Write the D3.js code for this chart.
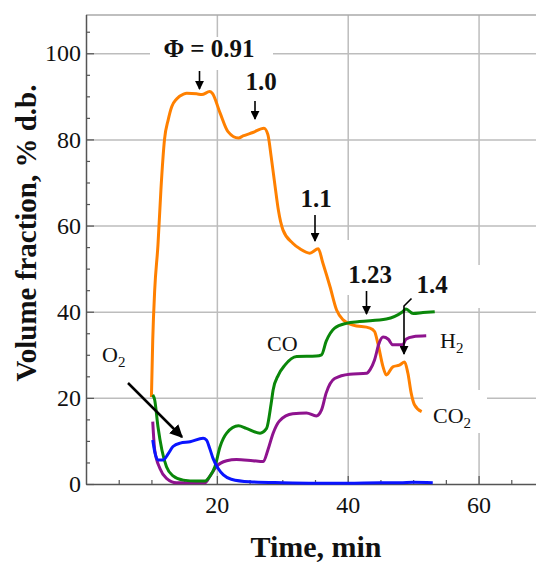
<!DOCTYPE html>
<html>
<head>
<meta charset="utf-8">
<script src="https://cdn.jsdelivr.net/npm/d3@7"></script>
<style>
  body { margin: 0; background: #fff; }
  text { font-family: "Liberation Serif", "Times New Roman", serif; fill: #111; }
</style>
</head>
<body>
<svg id="chart"></svg>
<script>
// data: time (min) and volume fraction (% d.b.)
var co2Time = [10.0, 10.2, 10.5, 11.0, 11.45, 12.0, 12.57, 13.1, 13.85, 14.9, 15.4, 16.9, 17.7, 18.9, 19.3, 20.5, 21.7, 23.3, 24.0, 25.5, 27.2, 27.8, 28.3, 28.9, 29.4, 30.1, 31.6, 32.7, 34.2, 35.5, 36.2, 37.3, 38.3, 39.3, 40.8, 43.4, 44.1, 44.6, 45.4, 45.9, 46.9, 47.9, 48.7, 49.2, 49.7, 50.2, 51.3];
var co2Vals = [20.2, 33.4, 45.0, 55.5, 68.3, 80.0, 84.6, 87.6, 89.4, 90.5, 90.7, 90.6, 90.4, 91.1, 90.7, 86.1, 81.8, 80.3, 80.8, 81.6, 82.6, 81.1, 76.0, 69.1, 63.6, 59.0, 55.9, 54.6, 53.6, 54.6, 51.3, 45.8, 40.4, 38.1, 36.9, 36.2, 35.4, 32.7, 27.2, 25.3, 27.2, 27.6, 28.3, 25.7, 21.1, 18.4, 16.8];

var coTime = [10.2, 10.5, 11.0, 11.6, 12.3, 13.3, 14.9, 16.9, 18.2, 18.9, 19.7, 20.5, 21.5, 23.3, 24.5, 26.6, 27.6, 28.3, 28.6, 29.4, 30.4, 32.2, 35.2, 36.0, 36.7, 38.0, 39.8, 41.8, 45.9, 48.4, 48.9, 50.0, 51.5, 53.3];
var coVals = [20.7, 19.5, 13.3, 7.9, 4.0, 1.9, 0.9, 0.7, 0.7, 1.7, 4.0, 8.7, 11.8, 13.5, 12.9, 11.8, 12.9, 18.7, 21.8, 25.3, 27.6, 29.6, 29.7, 30.0, 33.1, 36.2, 37.3, 37.7, 38.3, 40.0, 40.6, 39.6, 39.8, 40.0];

var h2Time = [10.2, 10.5, 11.3, 12.3, 13.8, 18.2, 18.9, 19.9, 21.5, 23.0, 25.5, 27.1, 27.8, 28.6, 29.6, 31.6, 33.7, 35.2, 36.0, 36.7, 38.0, 40.3, 42.9, 43.4, 44.1, 44.8, 45.4, 46.2, 46.9, 48.4, 48.9, 50.0, 52.0];
var h2Vals = [14.5, 7.9, 3.6, 1.3, 0.3, 0.3, 1.7, 4.0, 5.4, 5.7, 5.4, 5.2, 7.9, 11.8, 14.7, 16.3, 16.5, 15.8, 17.2, 21.1, 24.5, 25.5, 25.7, 26.5, 28.8, 32.7, 34.1, 33.6, 32.3, 32.3, 33.6, 34.2, 34.4];

var o2Time = [10.2, 10.5, 11.0, 11.8, 12.6, 13.3, 14.4, 15.9, 17.9, 18.4, 18.9, 19.4, 20.2, 21.0, 22.2, 25.0, 30.0, 35.0, 40.0, 45.0, 48.0, 50.0, 53.0];
var o2Vals = [10.2, 7.5, 5.6, 5.6, 7.1, 8.7, 9.5, 9.8, 10.6, 10.2, 8.3, 6.0, 3.6, 2.1, 1.1, 0.5, 0.3, 0.2, 0.2, 0.3, 0.3, 0.4, 0.3];

var xTicks = [20, 40, 60];
var yTicks = [0, 20, 40, 60, 80, 100];
var phiLabels = ["\u03A6 = 0.91", "1.0", "1.1", "1.23", "1.4"];

var width = 536, height = 562;

var svg = d3.select("#chart")
  .attr("width", width)
  .attr("height", height);

var x = d3.scaleLinear().domain([0, 70]).range([86, 544]);
var y = d3.scaleLinear().domain([0, 109]).range([484, 14.5]);

// grid
var gx = svg.append("g")
  .attr("transform", "translate(0,484)")
  .call(d3.axisBottom(x).tickValues(xTicks).tickSize(-(484 - 15)).tickFormat(""));
var gy = svg.append("g")
  .attr("transform", "translate(86,0)")
  .call(d3.axisLeft(y).tickValues(yTicks.slice(1)).tickSize(-(width - 86)).tickFormat(""));
[gx, gy].forEach(function(g){
  g.select(".domain").remove();
  g.selectAll("line").attr("stroke", "#bdbdbd").attr("stroke-width", 1.5);
});

// top frame line
svg.append("line")
  .attr("x1", 86).attr("x2", width).attr("y1", 15).attr("y2", 15)
  .attr("stroke", "#aaa").attr("stroke-width", 1.5);

// white boxes behind labels (they break the grid like in the original)
var boxes = [[150, 37, 123, 33], [340, 240, 60, 55], [405, 265, 80, 43], [423, 390, 64, 43]];
svg.selectAll(".box").data(boxes).enter().append("rect")
  .attr("x", function(d){ return d[0]; })
  .attr("y", function(d){ return d[1]; })
  .attr("width", function(d){ return d[2]; })
  .attr("height", function(d){ return d[3]; })
  .attr("fill", "#fff");

// axes
var minorX = d3.range(5, 70, 5).filter(function(v){ return v % 20 != 0; });
var minorY = d3.range(5, 109, 5).filter(function(v){ return v % 20 != 0; });

var xAxis = svg.append("g").attr("transform", "translate(0,484)");
xAxis.call(d3.axisBottom(x).tickValues(minorX).tickSize(-4).tickFormat("").tickSizeOuter(0));
var xAxis2 = svg.append("g").attr("transform", "translate(0,484)")
  .call(d3.axisBottom(x).tickValues(xTicks).tickSize(-8).tickPadding(12).tickSizeOuter(0));
xAxis2.select(".domain").remove();

var yAxis = svg.append("g").attr("transform", "translate(86,0)");
yAxis.call(d3.axisLeft(y).tickValues(minorY).tickSize(-4).tickFormat("").tickSizeOuter(0));
var yAxis2 = svg.append("g").attr("transform", "translate(86,0)")
  .call(d3.axisLeft(y).tickValues(yTicks).tickSize(-8).tickPadding(5).tickSizeOuter(0));
yAxis2.select(".domain").remove();

svg.selectAll(".domain").attr("stroke", "#555").attr("stroke-width", 1.5);
[xAxis, xAxis2, yAxis, yAxis2].forEach(function(g){
  g.selectAll(".tick line").attr("stroke", "#555").attr("stroke-width", 1.2);
  g.selectAll("text")
    .attr("font-family", "Liberation Serif, serif")
    .attr("font-size", 24)
    .attr("fill", "#1a1a1a");
});

// curves
var line = d3.line()
  .x(function(d){ return x(d[0]); })
  .y(function(d){ return y(d[1]); })
  .curve(d3.curveMonotoneX);

var series = [
  {t: co2Time, v: co2Vals, color: "#ff8000"},
  {t: h2Time, v: h2Vals, color: "#8e138e"},
  {t: coTime, v: coVals, color: "#0a870a"},
  {t: o2Time, v: o2Vals, color: "#0a14ff"}
];
svg.selectAll(".series").data(series).enter().append("path")
  .attr("d", function(s){ return line(d3.zip(s.t, s.v)); })
  .attr("fill", "none")
  .attr("stroke", function(s){ return s.color; })
  .attr("stroke-width", 3)
  .attr("stroke-linejoin", "round");

// arrow heads
var defs = svg.append("defs");
defs.append("marker")
  .attr("id", "head")
  .attr("viewBox", "0 0 10 10")
  .attr("refX", 9).attr("refY", 5)
  .attr("markerUnits", "userSpaceOnUse")
  .attr("markerWidth", 9).attr("markerHeight", 9)
  .attr("orient", "auto")
  .append("path").attr("d", "M0,0 L10,5 L0,10 z").attr("fill", "#000");
defs.append("marker")
  .attr("id", "headBig")
  .attr("viewBox", "0 0 10 10")
  .attr("refX", 9).attr("refY", 5)
  .attr("markerUnits", "userSpaceOnUse")
  .attr("markerWidth", 13).attr("markerHeight", 13)
  .attr("orient", "auto")
  .append("path").attr("d", "M0,0 L10,5 L0,10 z").attr("fill", "#000");

// equivalence ratio annotations
var phiText = [[209, 57], [261, 90], [316, 207], [370, 283], [432, 293]];
var phiArrows = [
  "M199.5,71 L199.5,89",
  "M255,101 L255,119",
  "M315,215 L315,241",
  "M366.5,291 L366.5,314",
  "M411.5,298.5 L404,306 L404,354"
];
svg.selectAll(".phi").data(phiLabels).enter().append("text")
  .attr("x", function(d, i){ return phiText[i][0]; })
  .attr("y", function(d, i){ return phiText[i][1]; })
  .attr("text-anchor", "middle")
  .attr("font-size", 25)
  .attr("font-weight", "bold")
  .text(function(d){ return d; });
svg.selectAll(".phiArrow").data(phiArrows).enter().append("path")
  .attr("d", function(d){ return d; })
  .attr("fill", "none")
  .attr("stroke", "#000")
  .attr("stroke-width", 1.6)
  .attr("marker-end", "url(#head)");

// O2 pointer
svg.append("path")
  .attr("d", "M128,383 L182,437")
  .attr("stroke", "#000")
  .attr("stroke-width", 2.5)
  .attr("marker-end", "url(#headBig)");

// species labels
function species(name, sub, px, py) {
  var t = svg.append("text").attr("x", px).attr("y", py).attr("font-size", 22);
  t.append("tspan").text(name);
  if (sub) t.append("tspan").attr("font-size", 15).attr("dy", 5).text(sub);
}
species("O", "2", 102, 362);
species("CO", "", 267, 351);
species("H", "2", 440, 348);
species("CO", "2", 433, 423);

// axis titles
svg.append("text")
  .attr("x", 316).attr("y", 557)
  .attr("text-anchor", "middle")
  .attr("font-size", 30)
  .attr("font-weight", "bold")
  .text("Time, min");

svg.append("text")
  .attr("transform", "translate(36,233) rotate(-90)")
  .attr("text-anchor", "middle")
  .attr("font-size", 29)
  .attr("font-weight", "bold")
  .text("Volume fraction, % d.b.");
</script>
</body>
</html>
